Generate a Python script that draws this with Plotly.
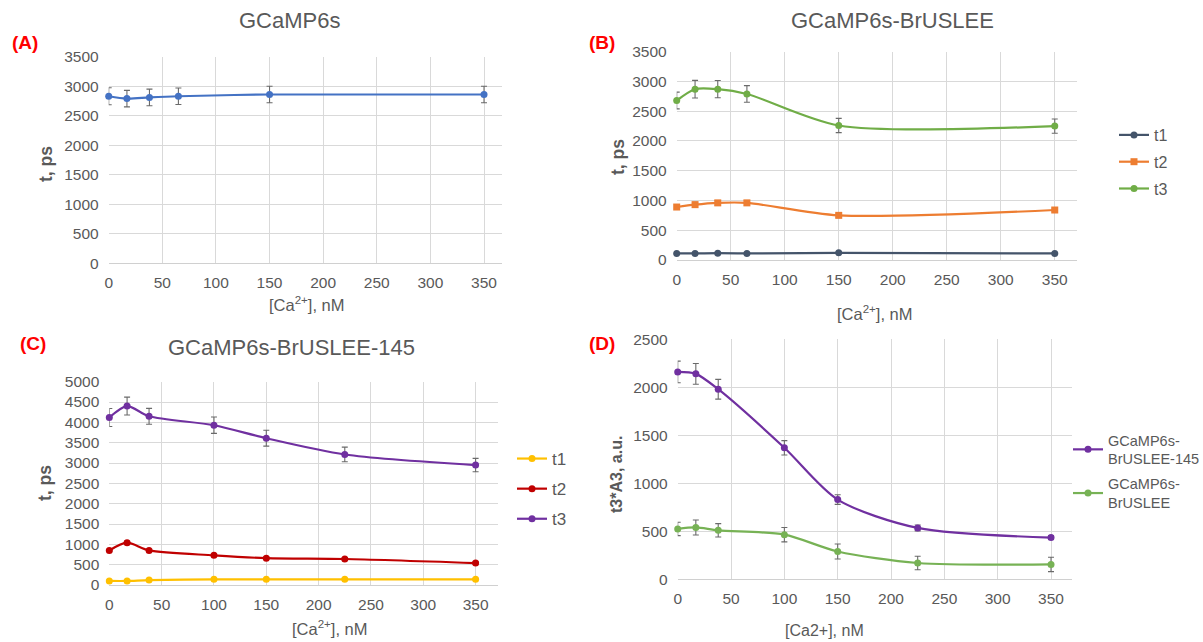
import plotly.graph_objects as go

W, H = 1203, 642

# ---------------- data ----------------
ca_a = [0, 17, 38, 65, 150, 350]
a_t = [2830, 2790, 2810, 2830, 2860, 2860]
a_err = [145, 140, 140, 140, 140, 140]

ca_b = [0, 17, 38, 65, 150, 350]
b_t1 = [110, 110, 115, 110, 120, 110]
b_t1_err = [10, 10, 10, 10, 10, 10]
b_t2 = [890, 930, 960, 960, 750, 840]
b_t2_err = [40, 40, 40, 40, 30, 30]
b_t3 = [2680, 2870, 2870, 2790, 2260, 2250]
b_t3_err = [140, 148, 145, 140, 120, 120]

ca_c = [0, 17, 38, 100, 150, 225, 350]
c_t1 = [100, 100, 120, 140, 140, 140, 140]
c_t1_err = [10, 10, 10, 10, 10, 10, 10]
c_t2 = [850, 1040, 850, 730, 660, 640, 540]
c_t2_err = [30, 40, 30, 30, 30, 30, 30]
c_t3 = [4120, 4400, 4150, 3930, 3610, 3210, 2950]
c_t3_err = [220, 220, 195, 200, 195, 180, 165]

ca_d = [0, 17, 38, 100, 150, 225, 350]
d_145 = [2160, 2140, 1980, 1370, 830, 535, 435]
d_145_err = [113, 108, 103, 75, 50, 31, 20]
d_br = [525, 540, 510, 465, 290, 170, 155]
d_br_err = [70, 78, 70, 75, 78, 70, 75]

FONT = "Arial, Liberation Sans, sans-serif"
GRAY = "#595959"
ERRC = "#6a6a6a"


def px(x):
    return x / W


def py(y):
    return 1 - y / H


fig = go.Figure()


def add(xv, yv, err, color, xa, ya, name, legend=None, symbol="circle", showlegend=True, smooth=0.8):
    fig.add_trace(go.Scatter(
        x=xv, y=yv, name=name, mode="lines+markers",
        xaxis=xa, yaxis=ya, cliponaxis=False,
        line=dict(color=color, width=2.2, shape="spline", smoothing=smooth),
        marker=dict(color=color, size=7, symbol=symbol),
        error_y=dict(type="data", array=err, visible=True, color=ERRC, thickness=1.1, width=3),
        showlegend=showlegend,
        legend=legend if legend else "legend",
        legendgroup=name + (legend or ""),
    ))


# A
add(ca_a, a_t, a_err, "#4472C4", "x", "y", "GCaMP6s", showlegend=False)
# B
add(ca_b, b_t1, b_t1_err, "#44546A", "x2", "y2", "t1", legend="legend")
add(ca_b, b_t2, b_t2_err, "#ED7D31", "x2", "y2", "t2", legend="legend", symbol="square")
add(ca_b, b_t3, b_t3_err, "#70AD47", "x2", "y2", "t3", legend="legend")
# C
add(ca_c, c_t1, c_t1_err, "#FFC000", "x3", "y3", "t1", legend="legend2")
add(ca_c, c_t2, c_t2_err, "#C00000", "x3", "y3", "t2", legend="legend2")
add(ca_c, c_t3, c_t3_err, "#7030A0", "x3", "y3", "t3", legend="legend2")
# D
add(ca_d, d_145, d_145_err, "#7030A0", "x4", "y4", "GCaMP6s-<br>BrUSLEE-145", legend="legend3")
add(ca_d, d_br, d_br_err, "#77B255", "x4", "y4", "GCaMP6s-<br>BrUSLEE", legend="legend3")


def xax(l, r, xmax):
    return dict(domain=[px(l), px(r)], range=[0, xmax], dtick=50, tick0=0,
                showgrid=True, gridcolor="#d9d9d9", gridwidth=1, zeroline=False,
                showline=True, linecolor="#d0d0d0", linewidth=1, automargin=False,
                ticks="", tickfont=dict(family=FONT, size=15.5, color=GRAY),
                ticklabelstandoff=5, fixedrange=True)


def yax(top, bot, ymax, anchor):
    return dict(domain=[py(bot), py(top)], range=[0, ymax], dtick=500, tick0=0,
                showgrid=True, gridcolor="#d9d9d9", gridwidth=1, zeroline=False,
                showline=False, ticks="", anchor=anchor, automargin=False,
                tickfont=dict(family=FONT, size=15.5, color=GRAY),
                ticklabelstandoff=9, fixedrange=True)


layout = dict(
    width=W, height=H, autosize=False,
    margin=dict(l=0, r=0, t=0, b=0, autoexpand=False),
    paper_bgcolor="white", plot_bgcolor="white",
    font=dict(family=FONT, color=GRAY),
    xaxis=dict(xax(108.7, 501.7, 366.5), anchor="y"),
    yaxis=yax(56.7, 263.3, 3500, "x"),
    xaxis2=dict(xax(676.7, 1077, 370.6), anchor="y2"),
    yaxis2=yax(51.7, 260, 3500, "x2"),
    xaxis3=dict(xax(109.3, 498, 371.4), anchor="y3"),
    yaxis3=yax(381.7, 585, 5000, "x3"),
    xaxis4=dict(xax(677.7, 1071.7, 369.4), anchor="y4"),
    yaxis4=yax(339.3, 579.3, 2500, "x4"),
    legend=dict(x=px(1114), y=py(118), xanchor="left", yanchor="top",
                font=dict(family=FONT, size=16, color=GRAY), bgcolor="rgba(0,0,0,0)",
                tracegroupgap=3, traceorder="grouped"),
    legend2=dict(x=px(512), y=py(441), xanchor="left", yanchor="top",
                 font=dict(family=FONT, size=17, color=GRAY), bgcolor="rgba(0,0,0,0)",
                 tracegroupgap=5, traceorder="grouped"),
    legend3=dict(x=px(1068), y=py(424), xanchor="left", yanchor="top",
                 font=dict(family=FONT, size=14.5, color=GRAY), bgcolor="rgba(0,0,0,0)",
                 tracegroupgap=3, traceorder="grouped"),
)
fig.update_layout(**layout)

ann = []


def text(x, y, t, size, color=GRAY, bold=False, angle=0):
    ann.append(dict(x=px(x), y=py(y), xref="paper", yref="paper", text=("<b>%s</b>" % t) if bold else t,
                    showarrow=False, xanchor="center", yanchor="middle", textangle=angle,
                    font=dict(family=FONT, size=size, color=color)))


# titles
text(289, 20, "GCaMP6s", 22)
text(892, 20, "GCaMP6s-BrUSLEE", 22)
text(291, 347, "GCaMP6s-BrUSLEE-145", 22)
# panel labels
RED = "#FF0000"
text(24.5, 43, "(A)", 19, RED, True)
text(602, 43, "(B)", 19, RED, True)
text(32.5, 343, "(C)", 19, RED, True)
text(601.7, 343, "(D)", 19, RED, True)
# axis titles
CA = "[Ca<sup>2+</sup>], nM"
text(307, 304, CA, 16.5)
text(875, 313, CA, 16.5)
text(330, 628, CA, 16.5)
text(824, 630, "[Ca2+], nM", 16)
text(46, 164, "t, ps", 17.5, GRAY, True, -90)
text(618, 157, "t, ps", 17.5, GRAY, True, -90)
text(45, 483, "t, ps", 17.5, GRAY, True, -90)
text(616, 475, "t3*A3, a.u.", 16, GRAY, True, -90)

fig.update_layout(annotations=ann)

fig.write_html("out.html")
